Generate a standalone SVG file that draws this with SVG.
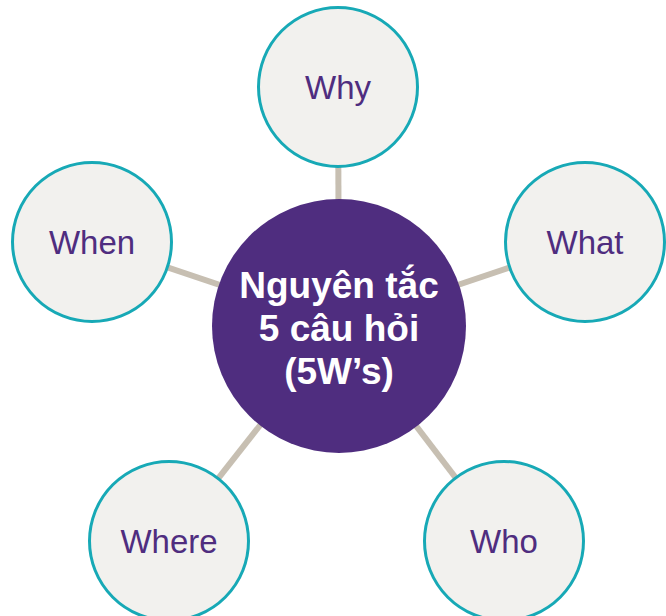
<svg xmlns="http://www.w3.org/2000/svg" width="666" height="616" viewBox="0 0 666 616">
<style>
.conn{stroke:#C7BFB2;stroke-width:6;fill:none}
.outer{fill:#F2F1EE;stroke:#17A9B6;stroke-width:3}
.lbl{font-family:"Liberation Sans",Arial,sans-serif;font-size:33px;fill:#4F2D7F;text-anchor:middle}
.ctr{font-family:"Liberation Sans",Arial,sans-serif;font-size:37px;font-weight:bold;fill:#FFFFFF;text-anchor:middle}
</style>
<rect width="666" height="616" fill="#FFFFFF"/>
<g id="connectors">
<line class="conn" x1="339" y1="325" x2="338" y2="87"/>
<line class="conn" x1="339" y1="325" x2="585" y2="242"/>
<line class="conn" x1="339" y1="325" x2="92" y2="242"/>
<line class="conn" x1="339" y1="325" x2="169" y2="541"/>
<line class="conn" x1="339" y1="325" x2="504" y2="541"/>
</g>
<g id="center">
<circle cx="339" cy="326" r="127" fill="#4F2D7F"/>
<text class="ctr" x="339" y="298">Nguyên tắc</text>
<text class="ctr" x="339" y="341">5 câu hỏi</text>
<text class="ctr" x="339" y="384">(5W’s)</text>
</g>
<g id="why">
<circle class="outer" cx="338" cy="87" r="79.5"/>
<text class="lbl" x="338" y="99">Why</text>
</g>
<g id="what">
<circle class="outer" cx="585" cy="242" r="79.5"/>
<text class="lbl" x="585" y="254">What</text>
</g>
<g id="when">
<circle class="outer" cx="92" cy="242" r="79.5"/>
<text class="lbl" x="92" y="254">When</text>
</g>
<g id="where">
<circle class="outer" cx="169" cy="541" r="79.5"/>
<text class="lbl" x="169" y="553">Where</text>
</g>
<g id="who">
<circle class="outer" cx="504" cy="541" r="79.5"/>
<text class="lbl" x="504" y="553">Who</text>
</g>
</svg>
